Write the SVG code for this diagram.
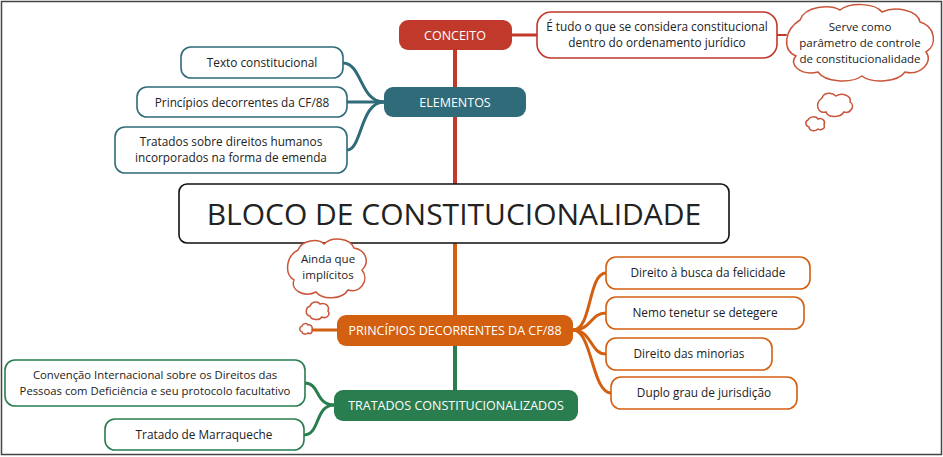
<svg xmlns="http://www.w3.org/2000/svg" width="943" height="457" viewBox="0 0 943 457">
<style>
text{font-family:"Open Sans","Liberation Sans",sans-serif;text-anchor:middle;font-size:11.8px;fill:#222}
.w{fill:#fff;font-size:12.5px}
.leaf{fill:#fff;stroke-width:1.6}
.c{fill:none;stroke-linecap:round}
.cl{fill:#fff;stroke:#c9553a;stroke-width:1.5}
.s{font-size:11.5px}
</style>
<rect x="1.5" y="1.5" width="940" height="453" fill="#fff" stroke="#444" stroke-width="1.5"/>
<g id="connectors">
<path class="c" d="M455 50V184" stroke="#c0392b" stroke-width="4"/>
<path class="c" d="M455 243V315" stroke="#d35f10" stroke-width="4"/>
<path class="c" d="M455 346V390" stroke="#2a7d4f" stroke-width="4"/>
<path class="c" d="M512 35H537" stroke="#c0392b" stroke-width="3"/>
<path class="c" d="M777 35H786" stroke="#c0392b" stroke-width="2"/>
<g stroke="#2f6b78" stroke-width="3" class="c" fill="none">
<path d="M384 102C360 102 362 63 343 63"/>
<path d="M384 102H347"/>
<path d="M384 102C360 102 362 150 347 150"/>
</g>
<g stroke="#d35f10" stroke-width="3" fill="none" stroke-linecap="round">
<path d="M573 330C592 330 588 273 606 273"/>
<path d="M573 330C592 330 590 313 606 313"/>
<path d="M573 330C592 330 590 354 606 354"/>
<path d="M573 330C592 330 592 393 611 393"/>
<path d="M337 330H312"/>
</g>
<g stroke="#2a7d4f" stroke-width="3" fill="none" stroke-linecap="round">
<path d="M334 405C315 405 320 383 305 383"/>
<path d="M334 405C315 405 320 435 304 435"/>
</g>
</g>
<g id="center"><rect x="179" y="184" width="550" height="59" rx="8" fill="#fff" stroke="#111" stroke-width="1.6"/><text x="454" y="225" style="font-size:30px" fill="#111">BLOCO DE CONSTITUCIONALIDADE</text></g>
<g id="conceito"><rect x="399" y="20" width="113" height="30" rx="9" fill="#c0392b"/><text class="w" x="455" y="40">CONCEITO</text></g>
<g id="conceito-def"><rect class="leaf" x="537" y="12" width="240" height="46" rx="14" stroke="#c0392b"/><text x="657" y="31">É tudo o que se considera constitucional</text><text x="657" y="47">dentro do ordenamento jurídico</text></g>
<g id="nota-parametro">
<path class="cl" d="M800 20C805 6 830 4 840 10C850 2 875 3 882 12C895 6 918 10 920 22C935 26 938 45 926 52C934 62 920 76 905 72C898 82 872 84 862 76C850 84 825 82 818 72C800 76 788 64 796 56C782 50 784 30 800 20Z"/>
<text class="s" x="860" y="31">Serve como</text><text class="s" x="860" y="47">parâmetro de controle</text><text class="s" x="860" y="63">de constitucionalidade</text>
<path class="cl" d="M822 98C824 92 832 92 836 96C842 92 852 96 850 102C856 106 850 114 844 112C840 118 828 118 826 112C818 114 814 104 822 98Z"/>
<path class="cl" d="M808 120C810 116 816 116 818 119C822 117 826 121 824 125C826 128 821 131 818 129C815 132 809 131 809 127C805 126 805 121 808 120Z"/>
</g>
<g id="elementos"><rect x="384" y="87" width="142" height="30" rx="9" fill="#2f6b78"/><text class="w" x="455" y="107">ELEMENTOS</text></g>
<g id="el1"><rect class="leaf" x="181" y="47" width="162" height="31" rx="10" stroke="#2f6b78"/><text x="262" y="67">Texto constitucional</text></g>
<g id="el2"><rect class="leaf" x="137" y="87" width="210" height="30" rx="10" stroke="#2f6b78"/><text x="242" y="107">Princípios decorrentes da CF/88</text></g>
<g id="el3"><rect class="leaf" x="115" y="127" width="232" height="46" rx="10" stroke="#2f6b78"/><text x="231" y="146">Tratados sobre direitos humanos</text><text x="231" y="162">incorporados na forma de emenda</text></g>
<g id="nota-implicitos">
<path class="cl" d="M298 250C302 240 318 238 324 244C332 236 350 238 354 248C366 250 370 262 362 270C370 280 360 294 348 290C342 300 322 300 316 292C304 298 290 290 294 280C284 274 286 256 298 250Z"/>
<text class="s" x="328" y="263">Ainda que</text><text class="s" x="328" y="279">implícitos</text>
<path class="cl" d="M310 306C312 301 318 301 320 304C325 302 330 306 328 311C331 315 326 319 322 317C319 321 311 320 310 316C305 315 305 308 310 306Z"/>
<path class="cl" d="M302 326C303 323 307 323 308 325C311 324 313 327 312 330C313 333 310 334 308 333C306 335 302 334 302 332C299 331 299 327 302 326Z"/>
</g>
<g id="principios"><rect x="337" y="315" width="236" height="31" rx="9" fill="#d35f10"/><text class="w" x="455" y="335">PRINCÍPIOS DECORRENTES DA CF/88</text></g>
<g id="p1"><rect class="leaf" x="606" y="257" width="204" height="32" rx="10" stroke="#d35f10"/><text x="708" y="277">Direito à busca da felicidade</text></g>
<g id="p2"><rect class="leaf" x="606" y="297" width="198" height="32" rx="10" stroke="#d35f10"/><text x="705" y="317">Nemo tenetur se detegere</text></g>
<g id="p3"><rect class="leaf" x="606" y="338" width="166" height="32" rx="10" stroke="#d35f10"/><text x="689" y="358">Direito das minorias</text></g>
<g id="p4"><rect class="leaf" x="611" y="377" width="186" height="32" rx="10" stroke="#d35f10"/><text x="704" y="397">Duplo grau de jurisdição</text></g>
<g id="tratados"><rect x="334" y="390" width="244" height="31" rx="9" fill="#2a7d4f"/><text class="w" x="456" y="410">TRATADOS CONSTITUCIONALIZADOS</text></g>
<g id="t1"><rect class="leaf" x="5" y="360" width="300" height="46" rx="10" stroke="#2a7d4f"/><text x="155" y="379" style="font-size:11.3px">Convenção Internacional sobre os Direitos das</text><text x="155" y="395" style="font-size:11.3px">Pessoas com Deficiência e seu protocolo facultativo</text></g>
<g id="t2"><rect class="leaf" x="105" y="419" width="199" height="31" rx="10" stroke="#2a7d4f"/><text x="204" y="439">Tratado de Marraqueche</text></g>
</svg>
